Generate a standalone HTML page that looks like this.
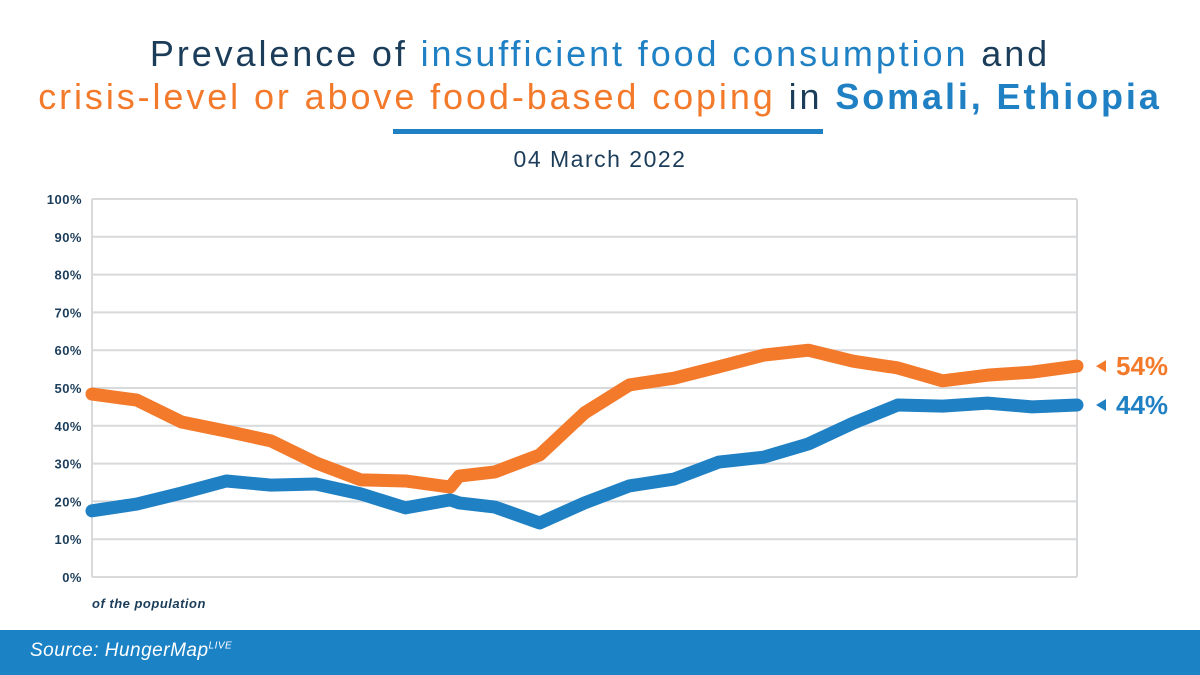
<!DOCTYPE html>
<html><head><meta charset="utf-8"><style>
body{margin:0;width:1200px;height:675px;overflow:hidden;background:#fff;font-family:"Liberation Sans",sans-serif;position:relative}
.t{position:absolute;left:0;width:1200px;text-align:center;font-size:36px;color:#1c3d5a;white-space:nowrap;letter-spacing:2.9px}
</style></head><body>
<div class="t" style="top:33px">Prevalence of <span style="color:#1f80c4">insufficient food consumption</span> and</div>
<div class="t" style="top:76px"><span style="color:#f37a2b">crisis-level or above food-based coping</span> in <b style="color:#1f80c4">Somali, Ethiopia</b></div>
<div style="position:absolute;left:393px;top:129px;width:430px;height:5px;background:#1f80c4"></div>
<div class="t" style="top:146px;font-size:23px;letter-spacing:1.5px">04 March 2022</div>
<svg id="c" width="1200" height="675" style="position:absolute;left:0;top:0"></svg>
<div style="position:absolute;left:0;top:630px;width:1200px;height:45px;background:#1b82c5">
<span style="position:absolute;left:30px;top:10px;color:#fff;font-style:italic;font-size:19px;letter-spacing:0.5px">Source: HungerMap<sup style="font-size:10px">LIVE</sup></span></div>
<script>
const xs=[0,1,2,3,4,5,6,7,8,8.2,9,10,11,12,13,14,15,16,17,18,19,20,21,22];
const coping=[48.4,46.8,41,38.6,36,30.2,25.7,25.4,23.8,26.7,27.8,32.3,43.4,50.8,52.6,55.6,58.7,60,57.1,55.3,51.9,53.4,54.2,55.8];
const consumption=[17.5,19.3,22.2,25.4,24.3,24.6,22,18.3,20.4,19.6,18.5,14.3,19.6,24.1,25.9,30.4,31.7,35.2,40.7,45.5,45.2,46,45,45.5];
const ticks=[0,10,20,30,40,50,60,70,80,90,100];
const labels=["54%","44%"];
const NS="http://www.w3.org/2000/svg",svg=document.getElementById('c');
const X=t=>92+t*(985/22),Y=v=>577-v*3.78;
function mk(tag,a,p){const e=document.createElementNS(NS,tag);for(const k in a)e.setAttribute(k,a[k]);(p||svg).appendChild(e);return e;}
ticks.forEach(v=>{
 const l=mk('line',{x1:92,x2:1077,y1:Y(v),y2:Y(v),stroke:'#d8d9db','stroke-width':2});
 
 
 const t=mk('text',{x:82,y:Y(v)+5,'text-anchor':'end','font-size':13,'font-weight':'bold',fill:'#1c3d5a','letter-spacing':0.5});
 t.textContent=v+'%';
 
 
});
[92,1077].forEach(x=>{const l=mk('line',{x1:x,x2:x,y1:Y(100),y2:Y(0),stroke:'#d8d9db','stroke-width':2});
 
 });
const note=mk('text',{x:92,y:608,'font-size':13,'font-style':'italic','font-weight':'bold',fill:'#1c3d5a','letter-spacing':0.5});note.textContent='of the population';


function line(d,col,name){const p=mk('polyline',{points:d.map((v,i)=>X(xs[i])+','+Y(v)).join(' '),fill:'none',stroke:col,'stroke-width':13,'stroke-linejoin':'round','stroke-linecap':'round'});
 
 }
line(consumption,'#1f80c4','consumption-line');
line(coping,'#f37a2b','coping-line');
[[coping,'#f37a2b',labels[0]],[consumption,'#1f80c4',labels[1]]].forEach(([d,col,lab])=>{
 const y=Y(d[d.length-1]);
 const m=mk('polygon',{points:`1096,${y} 1106,${y-6} 1106,${y+6}`,fill:col});
 
 
 const t=mk('text',{x:1116,y:y+9,'font-size':26,'font-weight':'bold',fill:col});t.textContent=lab;
 
 
});
</script>
</body></html>
